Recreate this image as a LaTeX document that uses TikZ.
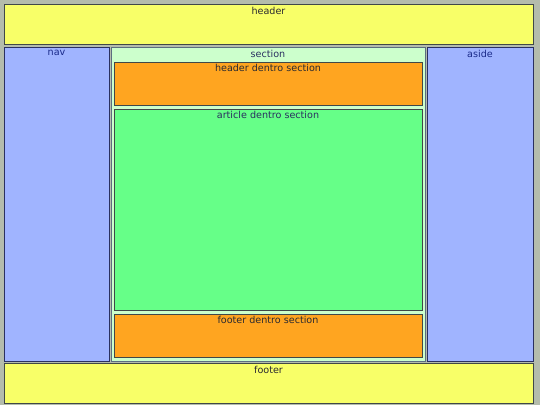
\documentclass[tikz,border=0pt]{standalone}
\usepackage{fontspec}
\setmainfont{DejaVu Sans}
\definecolor{bgc}{HTML}{B4BCAC}
\definecolor{yel}{HTML}{F8FF68}
\definecolor{blu}{HTML}{A0B4FF}
\definecolor{ora}{HTML}{FFA520}
\definecolor{grn}{HTML}{66FF88}
\definecolor{lgr}{HTML}{CCFFCC}
\definecolor{navtxt}{HTML}{1A2A8A}
\definecolor{dkb}{HTML}{2A3060}
\definecolor{dkg}{HTML}{404848}
\definecolor{txt}{HTML}{2A2A30}
\begin{document}
\begin{tikzpicture}[x=1pt,y=-1pt,
  box/.style={draw=dkg, line width=1pt, rectangle, inner sep=0pt, anchor=north west},
  lbl/.style={anchor=north, inner sep=0pt, font=\fontsize{9.6}{11}\selectfont, yshift=-3.4pt},
  ilbl/.style={lbl, yshift=0.8pt},
]
\fill[bgc] (0,0) rectangle (540,405);
\useasboundingbox (0,0) rectangle (540,405);
\node[box, fill=yel, minimum width=529pt, minimum height=40pt] (header) at (3.5,3.5) {};
\node[lbl, text=txt] (headerT) at (header.north) {header};
\node[box, draw=dkb, fill=blu, minimum width=105pt, minimum height=314pt] (nav) at (3.5,46.5) {};
\node[lbl, text=navtxt] (navT) at (nav.north) {nav};
\node[box, draw=dkb!70!lgr, fill=lgr, minimum width=314pt, minimum height=314pt] (section) at (110.5,46.5) {};
\node[lbl, text=dkb] (sectionT) at (section.north) {section};
\node[box, draw=dkb, fill=blu, minimum width=106pt, minimum height=314pt] (aside) at (426.5,46.5) {};
\node[lbl, text=navtxt] (asideT) at (aside.north) {aside};
\node[box, fill=ora, minimum width=308pt, minimum height=43pt] (sheader) at (113.5,61.5) {};
\node[ilbl, text=txt] (sheaderT) at (sheader.north) {header dentro section};
\node[box, fill=grn, minimum width=308pt, minimum height=201pt] (article) at (113.5,108.5) {};
\node[ilbl, text=dkb] (articleT) at (article.north) {article dentro section};
\node[box, fill=ora, minimum width=308pt, minimum height=43pt] (sfooter) at (113.5,313.5) {};
\node[ilbl, text=txt] (sfooterT) at (sfooter.north) {footer dentro section};
\node[box, fill=yel, minimum width=529pt, minimum height=40pt] (footer) at (3.5,362.5) {};
\node[lbl, text=txt] (footerT) at (footer.north) {footer};
\end{tikzpicture}
\end{document}
